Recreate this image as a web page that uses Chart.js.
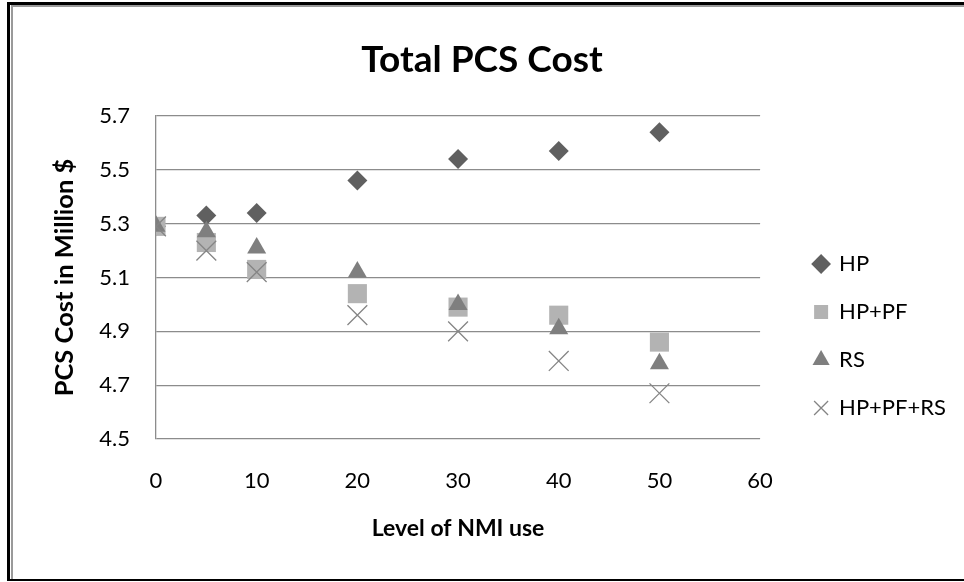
<!DOCTYPE html>
<html>
<head>
<meta charset="utf-8">
<script src="https://cdn.jsdelivr.net/npm/chart.js@4"></script>
<style>
  html, body { margin: 0; padding: 0; background: #fff; }
  #wrap { width: 964px; height: 582px; }
</style>
</head>
<body>
<div id="wrap"><canvas id="chart" width="964" height="582"></canvas></div>
<script>
// data
const levels = [0, 5, 10, 20, 30, 40, 50];
const hp = [5.29, 5.33, 5.34, 5.46, 5.54, 5.57, 5.64];
const hpPf = [5.29, 5.23, 5.13, 5.04, 4.99, 4.96, 4.86];
const rs = [5.29, 5.27, 5.21, 5.12, 5.00, 4.91, 4.78];
const hpPfRs = [5.29, 5.20, 5.12, 4.96, 4.90, 4.79, 4.67];
const yTicks = [4.5, 4.7, 4.9, 5.1, 5.3, 5.5, 5.7];
const seriesNames = ['HP', 'HP+PF', 'RS', 'HP+PF+RS'];

const FONT = 'Lato, "Open Sans", sans-serif';
const PAD_RIGHT = 36;

const toPoints = (vals) => levels.map((x, i) => ({ x: x, y: vals[i] }));

// white background + the outer frame
const framePlugin = {
  id: 'frame',
  beforeDraw(chart) {
    const c = chart.ctx;
    c.save();
    c.fillStyle = '#fff';
    c.fillRect(0, 0, chart.width, chart.height);
    c.restore();
  },
  afterDraw(chart) {
    const c = chart.ctx;
    c.save();
    c.fillStyle = '#000';
    c.fillRect(7, 2, chart.width, 3);
    c.fillRect(7, 2, 3, 579);
    c.fillRect(7, 579, chart.width, 2);
    c.fillStyle = '#9a9a9a';
    c.fillRect(11, 5, chart.width, 2);
    c.fillRect(11, 5, 2, 574);
    c.restore();
  }
};

// nudge legend and title to where they sit in the reference
const layoutShift = {
  id: 'layoutShift',
  afterLayout(chart) {
    const lg = chart.legend;
    if (lg) {
      const dx = 28, dy = -137;
      lg.left += dx; lg.right += dx;
      lg.top += dy; lg.bottom += dy;
    }
    const tb = chart.titleBlock;
    if (tb) {
      tb.left += PAD_RIGHT / 2;
      tb.right += PAD_RIGHT / 2;
    }
  }
};

const ctx = document.getElementById('chart').getContext('2d');
const chart = new Chart(ctx, {
  type: 'scatter',
  data: {
    datasets: [
      {
        label: seriesNames[0],
        data: toPoints(hp),
        pointStyle: 'rectRot',
        pointRadius: 10,
        backgroundColor: '#606060',
        borderColor: '#606060',
        borderWidth: 0,
        order: 4
      },
      {
        label: seriesNames[1],
        data: toPoints(hpPf),
        pointStyle: 'rect',
        pointRadius: 13.5,
        backgroundColor: '#b3b3b3',
        borderColor: '#b3b3b3',
        borderWidth: 0,
        order: 3
      },
      {
        label: seriesNames[2],
        data: toPoints(rs),
        pointStyle: 'triangle',
        pointRadius: 11,
        backgroundColor: '#7f7f7f',
        borderColor: '#7f7f7f',
        borderWidth: 0,
        order: 2
      },
      {
        label: seriesNames[3],
        data: toPoints(hpPfRs),
        pointStyle: 'crossRot',
        pointRadius: 14,
        backgroundColor: '#858585',
        borderColor: '#858585',
        borderWidth: 1.3,
        order: 1
      }
    ]
  },
  options: {
    responsive: false,
    animation: false,
    layout: { padding: { left: 0, right: PAD_RIGHT, top: 0, bottom: 0 } },
    plugins: {
      title: {
        display: true,
        text: 'Total PCS Cost',
        color: '#000',
        font: { family: FONT, size: 37, weight: 'bold', lineHeight: 1.2 },
        padding: { top: 38, bottom: 33.6 }
      },
      legend: {
        position: 'right',
        align: 'end',
        labels: {
          usePointStyle: true,
          boxWidth: 14,
          boxHeight: 14,
          padding: 26,
          color: '#000',
          font: { family: FONT, size: 22 },
          sort: (a, b) => a.datasetIndex - b.datasetIndex
        }
      },
      tooltip: { enabled: false }
    },
    scales: {
      x: {
        type: 'linear',
        min: 0,
        max: 60,
        ticks: {
          stepSize: 10,
          padding: 29,
          color: '#000',
          font: { family: FONT, size: 22 }
        },
        grid: { display: false, drawTicks: false },
        border: { display: false },
        title: {
          display: true,
          text: 'Level of NMI use',
          color: '#000',
          font: { family: FONT, size: 23, weight: 'bold', lineHeight: 1.2 },
          padding: { top: 0, bottom: 40 }
        },
        afterFit(s) { s.height = 143; }
      },
      y: {
        type: 'linear',
        min: 4.5,
        max: 5.7,
        afterBuildTicks(s) { s.ticks = yTicks.map(v => ({ value: v })); },
        ticks: {
          padding: 26,
          color: '#000',
          font: { family: FONT, size: 22 },
          callback: (v) => Number(v).toFixed(1)
        },
        grid: { color: '#8c8c8c', lineWidth: 1.3, drawTicks: false },
        border: { display: true, color: '#8c8c8c', width: 1.3 },
        title: {
          display: true,
          text: 'PCS Cost in Million $',
          color: '#000',
          font: { family: FONT, size: 25.5, weight: 'bold', lineHeight: 1.2 },
          padding: { top: 49.7, bottom: 0 }
        },
        afterFit(s) { s.width = 156; }
      }
    }
  },
  plugins: [framePlugin, layoutShift]
});
</script>
</body>
</html>
